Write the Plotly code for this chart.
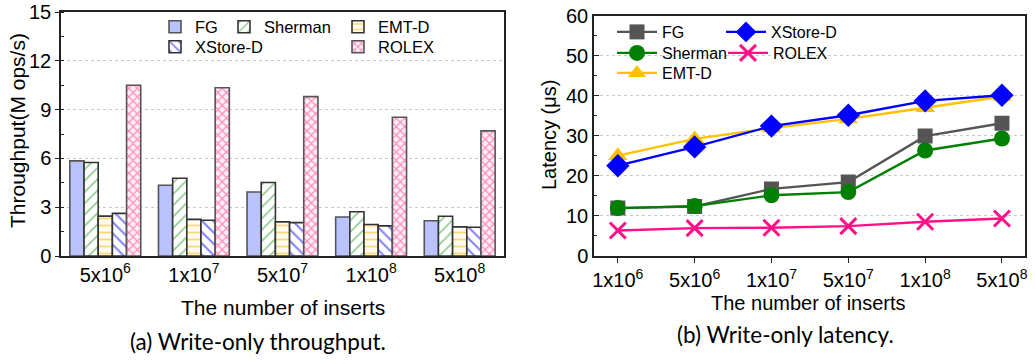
import plotly.graph_objects as go

W, H = 1035, 364


def fx(p):
    return p / W


def fy(p):
    return 1 - p / H


# ---------------- data ----------------
thr_categories = ["5x10<sup>6</sup>", "1x10<sup>7</sup>", "5x10<sup>7</sup>", "1x10<sup>8</sup>", "5x10<sup>8</sup>"]
thr_fg = [5.85, 4.35, 3.93, 2.40, 2.17]
thr_sherman = [5.75, 4.78, 4.52, 2.72, 2.44]
thr_emt = [2.45, 2.25, 2.10, 1.94, 1.79]
thr_xstore = [2.62, 2.20, 2.05, 1.85, 1.77]
thr_rolex = [10.50, 10.34, 9.80, 8.53, 7.69]

lat_categories = ["1x10<sup>6</sup>", "5x10<sup>6</sup>", "1x10<sup>7</sup>", "5x10<sup>7</sup>", "1x10<sup>8</sup>", "5x10<sup>8</sup>"]
lat_fg = [11.9, 12.3, 16.7, 18.4, 29.9, 33.1]
lat_sherman = [11.9, 12.4, 15.1, 15.9, 26.3, 29.3]
lat_emt = [25.0, 29.2, 31.9, 34.2, 37.0, 39.8]
lat_xstore = [22.5, 27.2, 32.4, 35.1, 38.7, 40.1]
lat_rolex = [6.3, 6.9, 7.0, 7.4, 8.5, 9.3]

FONT = "Arial"
OUTLINE = "#333333"

fig = go.Figure()

# ---------------- bar chart ----------------
bar_specs = [
    ("FG", thr_fg, dict(color="#BAC3FF", line=dict(color="#555555", width=1.6)), "legend"),
    ("Sherman", thr_sherman, dict(color="white", line=dict(color=OUTLINE, width=1.6),
                                  pattern=dict(shape="/", fgcolor="#1E9A1E", bgcolor="white", size=8, solidity=0.22)), "legend2"),
    ("EMT-D", thr_emt, dict(color="white", line=dict(color=OUTLINE, width=1.6),
                            pattern=dict(shape="-", fgcolor="#F5B400", bgcolor="#FFFBEE", size=7, solidity=0.25)), "legend3"),
    ("XStore-D", thr_xstore, dict(color="white", line=dict(color=OUTLINE, width=1.6),
                                  pattern=dict(shape="\\", fgcolor="#0000F0", bgcolor="white", size=8, solidity=0.25)), "legend4"),
    ("ROLEX", thr_rolex, dict(color="white", line=dict(color="#555555", width=1.6),
                              pattern=dict(shape="x", fgcolor="#FF2A84", bgcolor="#FFEFF5", size=6, solidity=0.38)), "legend5"),
]
for name, vals, marker, lg in bar_specs:
    fig.add_trace(go.Bar(x=thr_categories, y=vals, name=name, marker=marker,
                         xaxis="x", yaxis="y", legend=lg))

# ---------------- line chart ----------------
line_specs = [
    ("FG", lat_fg, "#555555", dict(symbol="square", size=15), "legend6"),
    ("EMT-D", lat_emt, "#FFC000", dict(symbol="triangle-up", size=17), "legend8"),
    ("Sherman", lat_sherman, "#008000", dict(symbol="circle", size=16), "legend7"),
    ("XStore-D", lat_xstore, "#0000FF", dict(symbol="diamond", size=18), "legend9"),
    ("ROLEX", lat_rolex, "#FF1088", dict(symbol="x-thin", size=16, line=dict(width=3, color="#FF1088")), "legend10"),
]
for name, vals, color, marker, lg in line_specs:
    m = dict(color=color)
    m.update(marker)
    fig.add_trace(go.Scatter(x=lat_categories, y=vals, name=name, mode="lines+markers",
                             line=dict(color=color, width=2.4), marker=m,
                             xaxis="x2", yaxis="y2", legend=lg))

axis_common = dict(showline=True, mirror=True, linecolor="#222222", linewidth=1.5,
                   zeroline=False, automargin=False,
                   tickfont=dict(family=FONT, size=20, color="black"))
grid = dict(showgrid=True, gridcolor="#C8C8C8", griddash="dot", gridwidth=1)

layout = dict(
    width=W, height=H,
    margin=dict(l=0, r=0, t=0, b=0, pad=0, autoexpand=False),
    paper_bgcolor="white", plot_bgcolor="white",
    font=dict(family=FONT, color="black"),
    barmode="group", bargap=0.2, bargroupgap=0,
    showlegend=True,
    xaxis=dict(domain=[fx(61), fx(504)], anchor="y", type="category", ticks="",
               showgrid=False, **axis_common),
    yaxis=dict(domain=[fy(256), fy(12)], anchor="x", range=[0, 15], dtick=3,
               ticks="outside", ticklen=4, tickcolor="#222222",
               minor=dict(dtick=1.5, ticks="inside", ticklen=3, tickcolor="#222222", showgrid=False),
               **grid, **axis_common),
    xaxis2=dict(domain=[fx(594), fx(1025)], anchor="y2", type="category", range=[-0.31, 5.30],
                ticks="outside", ticklen=6, tickcolor="#222222", showgrid=False, **axis_common),
    yaxis2=dict(domain=[fy(255.7), fy(15.7)], anchor="x2", range=[0, 60], dtick=10,
                ticks="inside", ticklen=5, tickcolor="#222222",
                minor=dict(dtick=5, ticks="inside", ticklen=3, tickcolor="#222222", showgrid=False),
                **grid, **axis_common),
)

# legends: one item each, placed individually
legend_pos = {
    "legend": (155, 27, 30, 16.5), "legend2": (224, 27, 30, 16.5), "legend3": (338, 27, 30, 16.5),
    "legend4": (155, 47, 30, 16.5), "legend5": (338, 47, 30, 16.5),
    "legend6": (612, 32, 40, 16), "legend7": (612, 53, 40, 16), "legend8": (612, 73, 40, 16),
    "legend9": (721, 32, 40, 16), "legend10": (723, 53, 40, 16),
}
for key, (x, y, iw, fs) in legend_pos.items():
    layout[key] = dict(x=fx(x), y=fy(y), xanchor="left", yanchor="middle",
                       xref="paper", yref="paper",
                       bgcolor="rgba(0,0,0,0)", borderwidth=0, itemwidth=iw,
                       font=dict(family=FONT, size=fs, color="black"))

ann = []
ann.append(dict(text="Throughput(M ops/s)", x=fx(17), y=fy(131), textangle=-90,
                font=dict(family=FONT, size=21, color="black")))
ann.append(dict(text="Latency (μs)", x=fx(549), y=fy(135), textangle=-90,
                font=dict(family=FONT, size=20, color="black")))
ann.append(dict(text="The number of inserts", x=fx(283), y=fy(307),
                font=dict(family=FONT, size=21, color="black")))
ann.append(dict(text="The number of inserts", x=fx(808), y=fy(303),
                font=dict(family=FONT, size=20, color="black")))
ann.append(dict(text="(a) Write-only throughput.", x=fx(258), y=fy(341),
                font=dict(family="Lato", size=22.5, color="black")))
ann.append(dict(text="(b) Write-only latency.", x=fx(785), y=fy(334),
                font=dict(family="Lato", size=22.5, color="black")))
for a in ann:
    a.update(xref="paper", yref="paper", showarrow=False, xanchor="center", yanchor="middle")
layout["annotations"] = ann

fig.update_layout(**layout)
fig.write_html("out.html")
